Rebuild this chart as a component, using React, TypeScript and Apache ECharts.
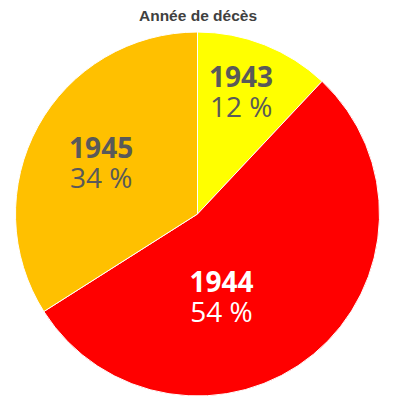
import React, { useEffect, useRef } from "react";
import * as echarts from "echarts";

const titleText = "Année de décès";
const years = ["1943", "1944", "1945"];
const percents = [12, 54, 34];
const sliceColors = ["#FFFF00", "#FF0000", "#FFC000"];
const labelColors = ["#595959", "#FFFFFF", "#595959"];
const labelShifts = [
  [9, -36],
  [-36, 10],
  [-14, -7],
];

export default function App() {
  const ref = useRef<HTMLDivElement>(null);
  useEffect(() => {
    if (!ref.current) return;
    const chart = echarts.init(ref.current, undefined, { renderer: "svg" });
    chart.setOption({
      animation: false,
      backgroundColor: "#FFFFFF",
      title: {
        text: titleText,
        left: "center",
        top: 2,
        textStyle: {
          fontFamily: "'Liberation Sans'",
          fontWeight: "bold",
          fontSize: 15.5,
          color: "#404040",
        },
      },
      series: [
        {
          type: "pie",
          center: [197.5, 214],
          radius: [0, 182],
          startAngle: 90,
          clockwise: true,
          silent: true,
          itemStyle: { borderColor: "#FFFFFF", borderWidth: 1 },
          label: {
            show: true,
            position: "inside",
            formatter: (p: any) => `{y|${p.name}}\n{p|${p.value} %}`,
            rich: {
              y: { fontFamily: "Open Sans", fontWeight: "bold", fontSize: 28, lineHeight: 30 },
              p: { fontFamily: "Open Sans", fontSize: 28, lineHeight: 30 },
            },
          },
          labelLayout: (params: any) => ({
            dx: labelShifts[params.dataIndex][0],
            dy: labelShifts[params.dataIndex][1],
          }),
          data: years.map((y, i) => ({
            name: y,
            value: percents[i],
            itemStyle: { color: sliceColors[i] },
            label: {
              rich: {
                y: { color: labelColors[i] },
                p: { color: labelColors[i] },
              },
            },
          })),
        },
      ],
    });
    return () => chart.dispose();
  }, []);
  return (
    <div
      ref={ref}
      style={{ position: "fixed", left: 0, top: 0, width: 396, height: 404 }}
    />
  );
}
